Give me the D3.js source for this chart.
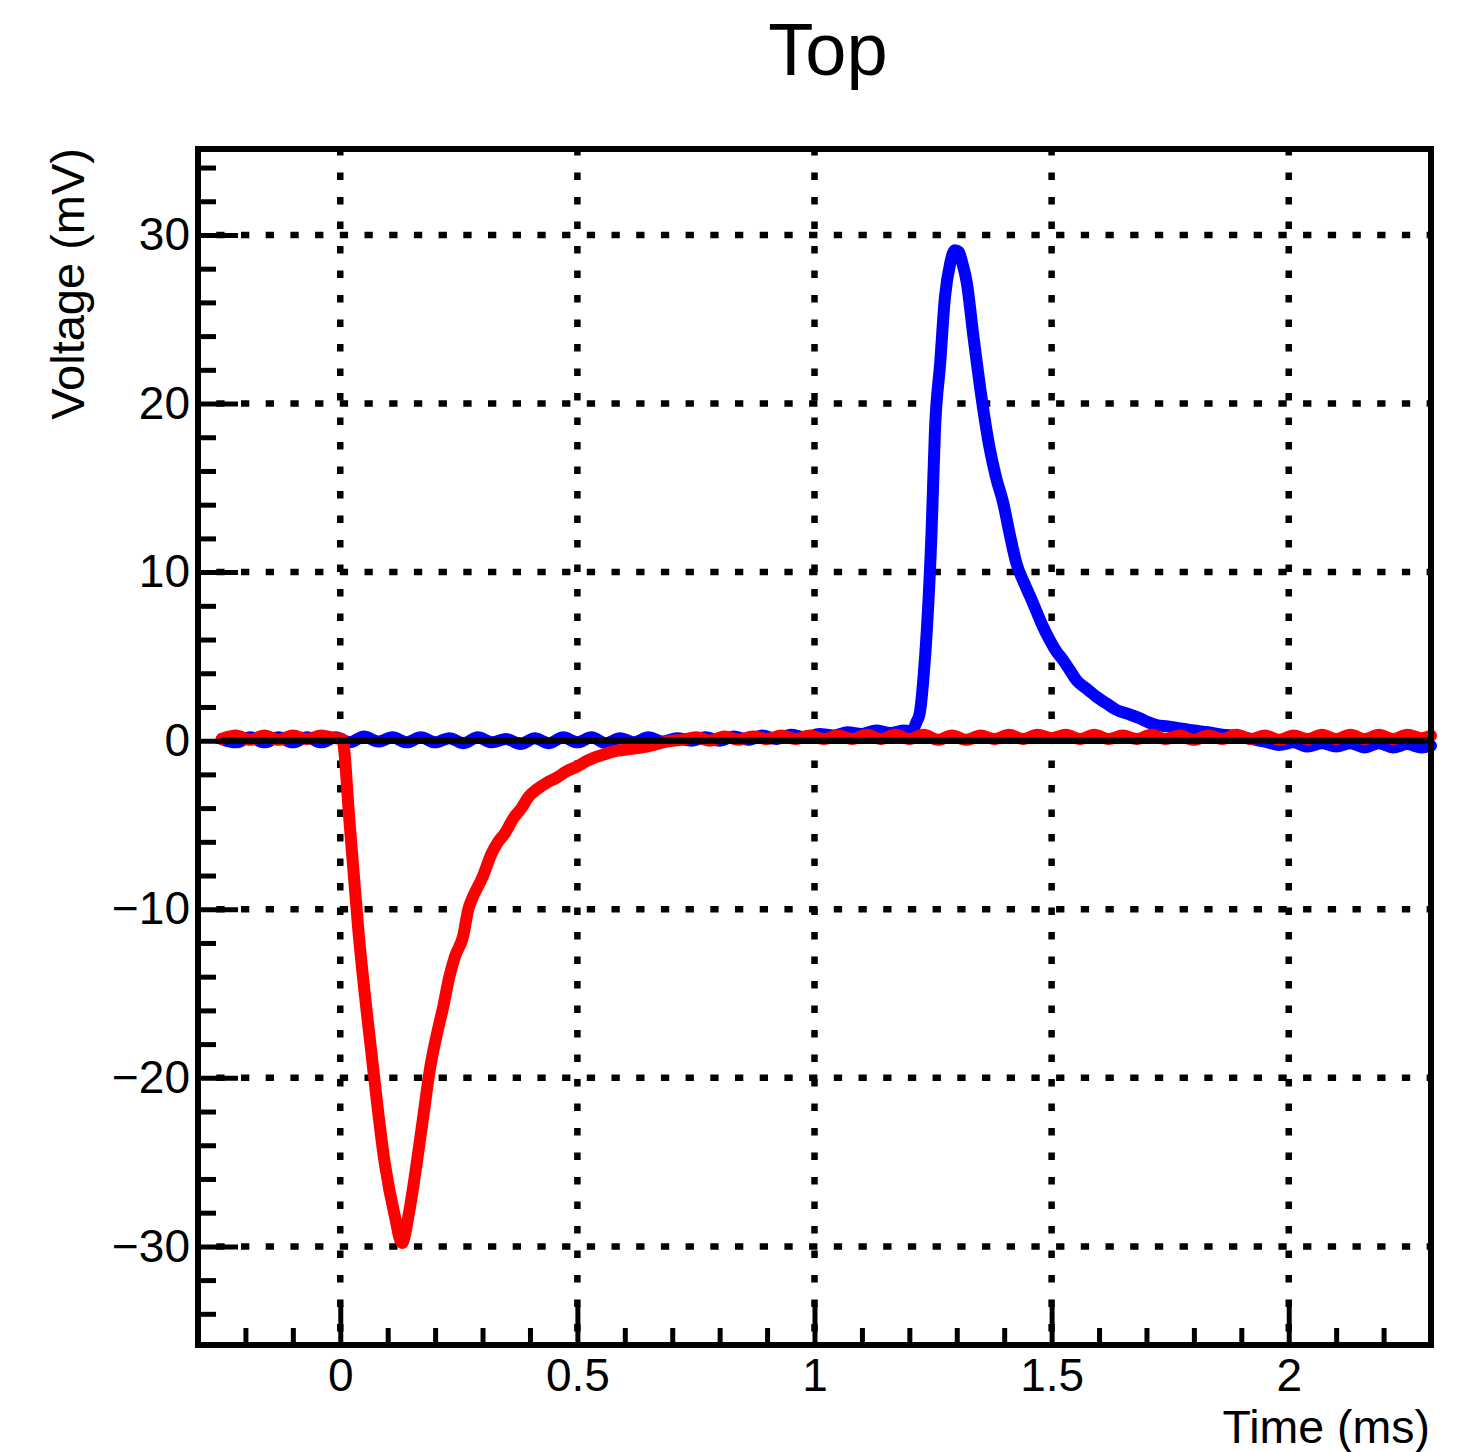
<!DOCTYPE html>
<html>
<head>
<meta charset="utf-8">
<title>Top</title>
<script src="https://cdn.jsdelivr.net/npm/d3@7"></script>
<style>
  html, body { margin: 0; padding: 0; background: #fff; }
  svg { display: block; }
  text { font-family: "Liberation Sans", Arial, Helvetica, sans-serif; fill: #000; }
</style>
</head>
<body>
<svg id="chart" width="1480" height="1452"></svg>
<script>
// ---- Axis ranges and ticks ----
const timeDomain = [-0.3, 2.3];          // ms
const voltDomain = [-35.85, 35.1];       // mV
const timeMajorTicks = [0, 0.5, 1, 1.5, 2];
const timeTickLabels = ["0", "0.5", "1", "1.5", "2"];
const timeMinorTicks = [-0.2, -0.1, 0.1, 0.2, 0.3, 0.4, 0.6, 0.7, 0.8, 0.9, 1.1, 1.2, 1.3, 1.4, 1.6, 1.7, 1.8, 1.9, 2.1, 2.2];
const voltMajorTicks = [-30, -20, -10, 0, 10, 20, 30];
const voltTickLabels = ["\u221230", "\u221220", "\u221210", "0", "10", "20", "30"];
const voltMinorTicks = [-34, -32, -28, -26, -24, -22, -18, -16, -14, -12, -8, -6, -4, -2, 2, 4, 6, 8, 12, 14, 16, 18, 22, 24, 26, 28, 32, 34];

// ---- Blue trace (positive pulse) ----
const blueTime = [
  -0.25, -0.22, -0.19, -0.16, -0.13, -0.10, -0.07, -0.04, -0.01, 0.02,
  0.05, 0.08, 0.11, 0.14, 0.17, 0.20, 0.23, 0.26, 0.29, 0.32,
  0.35, 0.38, 0.41, 0.44, 0.47, 0.50, 0.53, 0.56, 0.59, 0.62,
  0.65, 0.68, 0.71, 0.74, 0.77, 0.80, 0.83, 0.86, 0.89, 0.92,
  0.95, 0.98, 1.01, 1.04, 1.07, 1.10, 1.13, 1.16, 1.19, 1.205,
  1.215, 1.222, 1.230, 1.237, 1.247, 1.254, 1.265, 1.275, 1.286, 1.296,
  1.304, 1.312, 1.321, 1.335, 1.352, 1.369, 1.383, 1.398, 1.412, 1.426,
  1.443, 1.461, 1.478, 1.496, 1.510, 1.524, 1.538, 1.552, 1.573, 1.595,
  1.616, 1.637, 1.660, 1.686, 1.703, 1.721, 1.745, 1.771, 1.80, 1.83,
  1.86, 1.89, 1.92, 1.95, 1.98, 2.01, 2.04, 2.07, 2.10, 2.13,
  2.16, 2.19, 2.22, 2.25, 2.28, 2.30
];
const blueVolt = [
  0.1, -0.1, 0.2, -0.1, 0.2, -0.1, 0.2, -0.1, 0.2, -0.1,
  0.25, -0.05, 0.2, -0.1, 0.2, -0.1, 0.15, -0.15, 0.2, -0.1,
  0.1, -0.2, 0.15, -0.15, 0.2, -0.1, 0.2, -0.15, 0.15, -0.1,
  0.2, -0.05, 0.15, 0.0, 0.2, 0.0, 0.25, 0.05, 0.3, 0.1,
  0.35, 0.2, 0.4, 0.3, 0.5, 0.4, 0.6, 0.45, 0.6, 0.55,
  1.1, 1.64, 3.8, 6.6, 12.5, 18.4, 22.4, 26.3, 28.3, 29.1,
  29.0, 28.3, 27.2, 24.0, 20.4, 17.4, 15.6, 14.1, 12.2, 10.5,
  9.3, 8.15, 7.0, 5.97, 5.3, 4.79, 4.2, 3.6, 3.1, 2.6,
  2.2, 1.82, 1.6, 1.33, 1.1, 0.93, 0.85, 0.73, 0.6, 0.5,
  0.35, 0.3, 0.1, -0.05, -0.25, -0.1, -0.35, -0.15, -0.35, -0.15,
  -0.4, -0.15, -0.4, -0.2, -0.4, -0.3
];

// ---- Red trace (negative pulse) ----
const redTime = [
  -0.25, -0.22, -0.19, -0.16, -0.13, -0.10, -0.07, -0.04, -0.01, 0.004,
  0.020, 0.038, 0.066, 0.094, 0.115, 0.130, 0.145, 0.161, 0.175, 0.189,
  0.203, 0.217, 0.230, 0.242, 0.259, 0.270, 0.280, 0.300, 0.319, 0.333,
  0.347, 0.365, 0.382, 0.398, 0.414, 0.435, 0.456, 0.478, 0.499, 0.520,
  0.541, 0.558, 0.575, 0.610, 0.646, 0.668, 0.688,
  0.72, 0.75, 0.78, 0.81, 0.84, 0.87, 0.90, 0.93, 0.96, 0.99,
  1.02, 1.05, 1.08, 1.11, 1.14, 1.17, 1.20, 1.23, 1.26, 1.29,
  1.32, 1.35, 1.38, 1.41, 1.44, 1.47, 1.50, 1.53, 1.56, 1.59,
  1.62, 1.65, 1.68, 1.71, 1.74, 1.77, 1.80, 1.83, 1.86, 1.89,
  1.92, 1.95, 1.98, 2.01, 2.04, 2.07, 2.10, 2.13, 2.16, 2.19,
  2.22, 2.25, 2.28, 2.30
];
const redVolt = [
  0.1, 0.3, 0.05, 0.3, 0.05, 0.3, 0.1, 0.3, 0.15, 0.1,
  -5.0, -11.2, -18.6, -25.1, -28.2, -29.8, -28.0, -25.1, -22.3, -19.5,
  -17.5, -15.8, -14.0, -12.8, -11.6, -10.0, -9.25, -8.1, -6.7, -6.0,
  -5.5, -4.6, -4.0, -3.3, -2.9, -2.5, -2.2, -1.8, -1.54, -1.2,
  -0.95, -0.8, -0.65, -0.5, -0.36, -0.2, -0.06,
  0.05, 0.2, 0.0, 0.25, 0.05, 0.25, 0.1, 0.3, 0.1, 0.3,
  0.1, 0.3, 0.1, 0.35, 0.1, 0.35, 0.1, 0.35, 0.05, 0.3,
  0.05, 0.3, 0.1, 0.35, 0.1, 0.35, 0.15, 0.35, 0.1, 0.35,
  0.1, 0.3, 0.1, 0.35, 0.1, 0.3, 0.05, 0.3, 0.1, 0.35,
  0.1, 0.3, 0.05, 0.3, 0.1, 0.35, 0.1, 0.35, 0.1, 0.35,
  0.1, 0.35, 0.15, 0.3
];

// ---- Zero reference line ----
const zeroTime = [-0.25, 2.3];
const zeroVolt = [0, 0];

// ---- Layout ----
const frame = { left: 198, right: 1431, top: 149, bottom: 1345 };
const svg = d3.select("#chart");

const x = d3.scaleLinear().domain(timeDomain).range([frame.left, frame.right]);
const y = d3.scaleLinear().domain(voltDomain).range([frame.bottom, frame.top]);

const zip = (ts, vs) => ts.map((t, i) => [t, vs[i]]);
const traceLine = d3.line().x(d => x(d[0])).y(d => y(d[1])).curve(d3.curveMonotoneX);
const straightLine = d3.line().x(d => x(d[0])).y(d => y(d[1]));

// Dotted grid
const grid = svg.append("g").attr("stroke", "#000").attr("stroke-width", 6.5)
  .attr("fill", "none");
grid.selectAll("line.vg").data(timeMajorTicks).join("line")
  .attr("class", "vg")
  .attr("x1", d => x(d)).attr("x2", d => x(d))
  .attr("y1", frame.top).attr("y2", frame.bottom)
  .attr("stroke-dasharray", "7.5 17")
  .attr("stroke-dashoffset", 1);
grid.selectAll("line.hg").data(voltMajorTicks).join("line")
  .attr("class", "hg")
  .attr("x1", frame.left).attr("x2", frame.right)
  .attr("y1", d => y(d)).attr("y2", d => y(d))
  .attr("stroke-dasharray", "8.3 16.4")
  .attr("stroke-dashoffset", 6.4);

// Traces
svg.append("path").datum(zip(blueTime, blueVolt))
  .attr("d", traceLine).attr("fill", "none").attr("stroke", "#0000ff")
  .attr("stroke-width", 12).attr("stroke-linejoin", "round").attr("stroke-linecap", "round");
svg.append("path").datum(zip(redTime, redVolt))
  .attr("d", traceLine).attr("fill", "none").attr("stroke", "#ff0000")
  .attr("stroke-width", 12).attr("stroke-linejoin", "round").attr("stroke-linecap", "round");
svg.append("path").datum(zip(zeroTime, zeroVolt))
  .attr("d", straightLine).attr("fill", "none").attr("stroke", "#000")
  .attr("stroke-width", 6.5);

// Axes (ticks point inward)
const fontSize = 46;
const xMinor = d3.axisBottom(x).tickValues(timeMinorTicks).tickSize(-17).tickFormat("");
const xMajor = d3.axisBottom(x).tickValues(timeMajorTicks).tickSize(-40).tickPadding(13)
  .tickFormat((d, i) => timeTickLabels[i]);
const yMinor = d3.axisLeft(y).tickValues(voltMinorTicks).tickSize(-18).tickFormat("");
const yMajor = d3.axisLeft(y).tickValues(voltMajorTicks).tickSize(-40).tickPadding(8)
  .tickFormat((d, i) => voltTickLabels[i]);

function styleAxis(g) {
  g.select(".domain").remove();
  g.selectAll(".tick line").attr("stroke", "#000").attr("stroke-width", 5);
  g.selectAll(".tick text").attr("font-size", fontSize)
    .attr("font-family", "'Liberation Sans', Arial, Helvetica, sans-serif").attr("fill", "#000");
}
svg.append("g").attr("transform", `translate(0,${frame.bottom})`).call(xMinor).call(styleAxis);
svg.append("g").attr("transform", `translate(0,${frame.bottom})`).call(xMajor).call(styleAxis);
svg.append("g").attr("transform", `translate(${frame.left},0)`).call(yMinor).call(styleAxis);
svg.append("g").attr("transform", `translate(${frame.left},0)`).call(yMajor).call(styleAxis);

// Frame
svg.append("rect")
  .attr("x", frame.left).attr("y", frame.top)
  .attr("width", frame.right - frame.left).attr("height", frame.bottom - frame.top)
  .attr("fill", "none").attr("stroke", "#000").attr("stroke-width", 6);

// Titles
svg.append("text").attr("x", 828).attr("y", 75)
  .attr("text-anchor", "middle").attr("font-size", 74).text("Top");
svg.append("text").attr("x", 1430).attr("y", 1443)
  .attr("text-anchor", "end").attr("font-size", 46.5).text("Time (ms)");
svg.append("text").attr("transform", "translate(84,148) rotate(-90)")
  .attr("text-anchor", "end").attr("font-size", 47).text("Voltage (mV)");
</script>
</body>
</html>
